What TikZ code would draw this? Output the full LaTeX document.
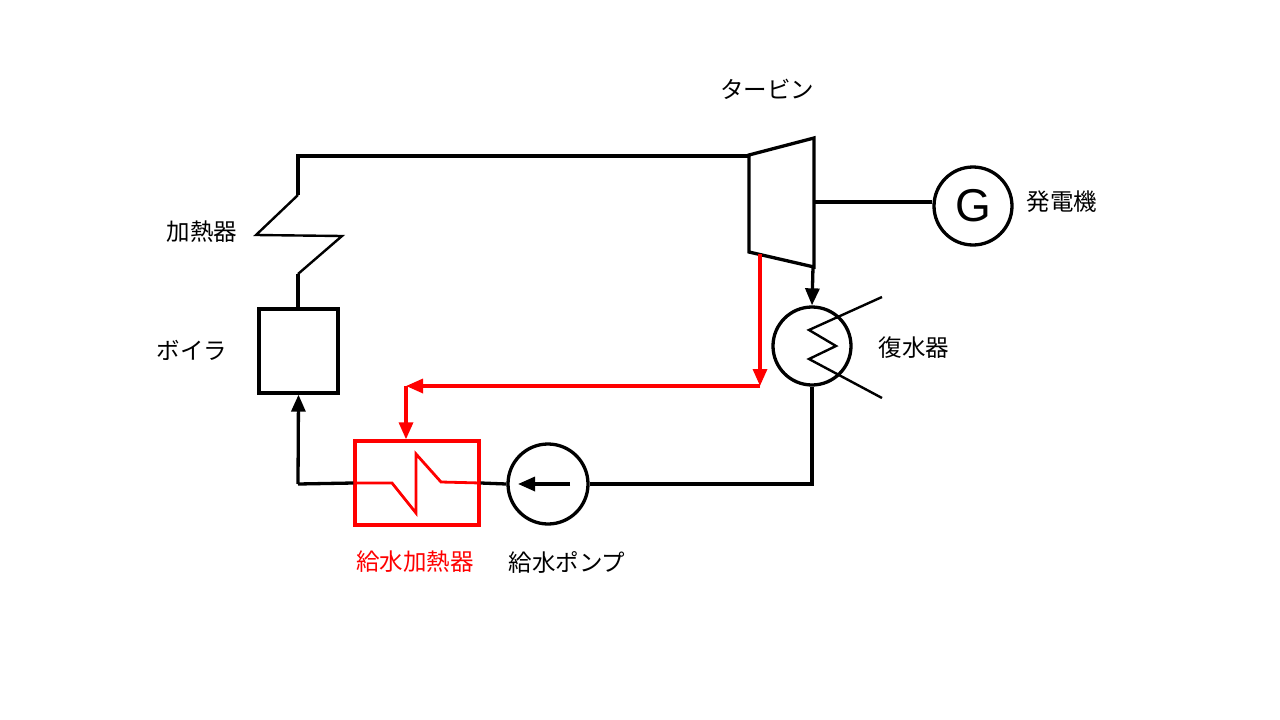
\documentclass[tikz,border=0pt]{standalone}
\usepackage{fontspec}
\newfontfamily\cjk{Noto Sans CJK JP}
\setmainfont{Liberation Sans}
\usetikzlibrary{arrows.meta}
\definecolor{red1}{RGB}{255,0,0}
\begin{document}
\begin{tikzpicture}[x=1pt,y=-1pt,
  thk/.style={line width=3.3pt,line join=miter},
  thinl/.style={line width=2.4pt},
  rl/.style={line width=3.3pt,draw=red1,fill=red1},
  arr/.style={-{Triangle[length=17pt,width=14pt]}},
  lab/.style={font=\cjk\fontsize{23.5}{28}\selectfont}]
\useasboundingbox (0,0) rectangle (1280,720);
% turbine
\draw[thk] (749,155) -- (814,138) -- (814,267) -- (749,252) -- cycle;
\coordinate (tin) at (749,156);
\coordinate (hTop) at (298,156);
\draw[thk] (tin) -- (hTop) -- (298,195);
\draw[thinl] (298,195) -- (256,235) -- (342,236) -- (298,274);
\draw[thk] (298,274) -- (298,311);
% boiler
\node[draw,line width=3.3pt,minimum width=79pt,minimum height=84pt,inner sep=0] (boiler) at (298.5,351) {};
% feed heater
\node[draw=red1,line width=3.3pt,minimum width=124pt,minimum height=84pt,inner sep=0] (fwh) at (417,483) {};
\draw[draw=red1,line width=2.8pt] (fwh.west) -- (392,483) -- (416,513) -- (416,454) -- (441,482) -- (fwh.east);
% bottom line to boiler
\coordinate (bl) at (298,484);
\draw[thk] (fwh.west) -- (bl);
\draw[thk,arr] (bl) -- (boiler.south);
% pump
\node[draw,circle,line width=3.3pt,minimum size=80pt,inner sep=0] (pump) at (548,484) {};
\draw[thk] (fwh.east) -- (pump.west);
\coordinate (pa) at (570,484);
\coordinate (pb) at (518,484);
\draw[thk,arr] (pa) -- (pb);
% condenser
\node[draw,circle,line width=3.3pt,minimum size=78pt,inner sep=0] (cond) at (812,346) {};
\coordinate (br) at (812,484);
\draw[thk] (pump.east) -- (br) -- (cond.south);
\coordinate (tout) at (813,267);
\draw[thk,arr] (tout) -- (cond.north);
\draw[thinl] (882,297) -- (809,330) -- (836,346) -- (809,359) -- (882,398);
% generator
\node[draw,circle,line width=3.3pt,minimum size=78pt,inner sep=0,font=\fontsize{46}{46}\selectfont] (gen) at (973,206) {G};
\coordinate (shaft) at (814,202);
\draw[thk] (shaft) -- (shaft -| gen.west);
% extraction (red)
\coordinate (e1) at (760,254);
\coordinate (e2) at (760,386);
\coordinate (e3) at (406,386);
\draw[rl,arr] (e1) -- (e2);
\draw[rl,arr] (e2) -- (e3);
\draw[rl,arr] (e3) -- (fwh.north -| e3);
% labels
\node[lab] (l1) at (767,89) {タービン};
\node[lab] (l2) at (1062,202) {発電機};
\node[lab] (l3) at (202,232) {加熱器};
\node[lab] (l4) at (192,350) {ボイラ};
\node[lab] (l5) at (914,348) {復水器};
\node[lab,text=red1] (l6) at (415,562) {給水加熱器};
\node[lab] (l7) at (567,562) {給水ポンプ};
\end{tikzpicture}
\end{document}
